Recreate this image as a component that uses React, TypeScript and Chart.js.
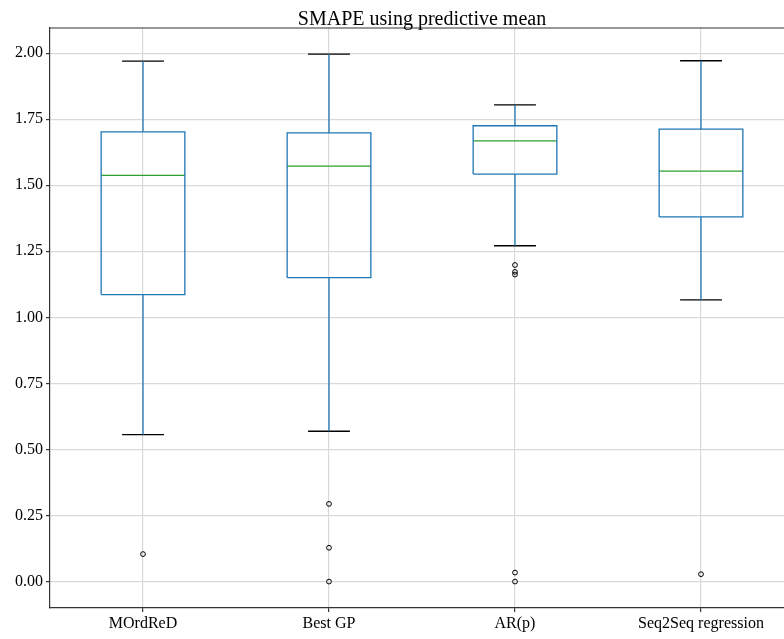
import React, { useEffect, useRef } from "react";
import { Chart, registerables } from "chart.js";

Chart.register(...registerables);

const categories = ["MOrdReD", "Best GP", "AR(p)", "Seq2Seq regression"];
const whiskerLow = [0.556, 0.569, 1.271, 1.066];
const quartile1 = [1.086, 1.15, 1.542, 1.38];
const medians = [1.537, 1.572, 1.668, 1.553];
const quartile3 = [1.702, 1.698, 1.725, 1.712];
const whiskerHigh = [1.97, 1.996, 1.804, 1.971];
const outliers = [
  [0.104],
  [0.294, 0.128, 0.0],
  [1.198, 1.172, 1.162, 0.034, 0.0],
  [0.028],
];
const yTicks = [0, 0.25, 0.5, 0.75, 1.0, 1.25, 1.5, 1.75, 2.0];
const chartTitle = "SMAPE using predictive mean";

const FONT = "'Liberation Serif', 'DejaVu Serif', serif";
const BLUE = "#1f77b4";
const GREEN = "#2ca02c";
const BOX_HALF = 0.225;
const CAP_HALF = 0.1125;

const lineDs = (pts: { x: number; y: number }[], color: string) => ({
  type: "scatter" as const,
  data: pts,
  showLine: true,
  borderColor: color,
  backgroundColor: color,
  borderWidth: 1.3,
  pointRadius: 0,
  pointHoverRadius: 0,
  fill: false,
  tension: 0,
});

function buildDatasets() {
  const ds: any[] = [];
  categories.forEach((_, i) => {
    const p = i + 1;
    ds.push(
      lineDs(
        [
          { x: p - BOX_HALF, y: quartile1[i] },
          { x: p + BOX_HALF, y: quartile1[i] },
          { x: p + BOX_HALF, y: quartile3[i] },
          { x: p - BOX_HALF, y: quartile3[i] },
          { x: p - BOX_HALF, y: quartile1[i] },
        ],
        BLUE
      )
    );
    ds.push(lineDs([{ x: p, y: quartile1[i] }, { x: p, y: whiskerLow[i] }], BLUE));
    ds.push(lineDs([{ x: p, y: quartile3[i] }, { x: p, y: whiskerHigh[i] }], BLUE));
    ds.push(
      lineDs([{ x: p - CAP_HALF, y: whiskerLow[i] }, { x: p + CAP_HALF, y: whiskerLow[i] }], "#000")
    );
    ds.push(
      lineDs([{ x: p - CAP_HALF, y: whiskerHigh[i] }, { x: p + CAP_HALF, y: whiskerHigh[i] }], "#000")
    );
    ds.push(lineDs([{ x: p - BOX_HALF, y: medians[i] }, { x: p + BOX_HALF, y: medians[i] }], GREEN));
    ds.push({
      type: "scatter" as const,
      data: outliers[i].map((v) => ({ x: p, y: v })),
      showLine: false,
      pointStyle: "circle",
      pointRadius: 2.4,
      pointHoverRadius: 2.4,
      borderColor: "#000",
      backgroundColor: "rgba(0,0,0,0)",
      borderWidth: 1,
    });
  });
  return ds;
}

const framePlugin = {
  id: "frame",
  afterDraw(chart: any) {
    const { ctx, chartArea } = chart;
    ctx.save();
    ctx.strokeStyle = "#333";
    ctx.lineWidth = 1.2;
    ctx.beginPath();
    ctx.moveTo(chartArea.left, chartArea.top);
    ctx.lineTo(chartArea.right, chartArea.top);
    ctx.stroke();
    ctx.fillStyle = "#000";
    ctx.font = `20px ${FONT}`;
    ctx.textAlign = "center";
    ctx.textBaseline = "alphabetic";
    ctx.fillText(chartTitle, (chartArea.left + chartArea.right) / 2, chartArea.top - 3);
    ctx.restore();
  },
};

export default function App() {
  const ref = useRef<HTMLCanvasElement | null>(null);
  useEffect(() => {
    if (!ref.current) return;
    const gridCommon = {
      color: "#d9d9d9",
      lineWidth: 1.2,
      drawTicks: true,
      tickLength: 4,
      tickColor: "#333",
      tickWidth: 1.2,
    };
    const chart = new Chart(ref.current, {
      type: "scatter",
      data: { datasets: buildDatasets() },
      options: {
        animation: false,
        responsive: false,
        events: [],
        layout: { padding: { top: 28, right: 6, left: 0, bottom: 0 } },
        plugins: {
          legend: { display: false },
          tooltip: { enabled: false },
          title: { display: false },
        },
        scales: {
          x: {
            type: "linear",
            min: 0.5,
            max: 4.5,
            afterBuildTicks: (s: any) => {
              s.ticks = categories.map((_, i) => ({ value: i + 1 }));
            },
            afterFit: (s: any) => {
              s.height = 31;
            },
            ticks: {
              callback: (v: any) => categories[Math.round(Number(v)) - 1] ?? "",
              font: { family: FONT, size: 16 },
              color: "#000",
              padding: 2,
              maxRotation: 0,
              autoSkip: false,
            },
            grid: gridCommon,
            border: { display: true, color: "#333", width: 1.2 },
          },
          y: {
            type: "linear",
            min: -0.1,
            max: 2.095,
            afterBuildTicks: (s: any) => {
              s.ticks = yTicks.map((v) => ({ value: v }));
            },
            afterFit: (s: any) => {
              s.width = 50;
            },
            ticks: {
              callback: (v: any) => Number(v).toFixed(2),
              font: { family: FONT, size: 16 },
              color: "#000",
              padding: 3,
            },
            grid: gridCommon,
            border: { display: true, color: "#333", width: 1.2 },
          },
        },
      },
      plugins: [framePlugin],
    } as any);
    return () => chart.destroy();
  }, []);

  return (
    <div
      style={{
        position: "fixed",
        left: 0,
        top: 0,
        width: 784,
        height: 639,
        overflow: "hidden",
        background: "#fff",
      }}
    >
      <canvas ref={ref} width={800} height={639} style={{ display: "block" }} />
    </div>
  );
}
